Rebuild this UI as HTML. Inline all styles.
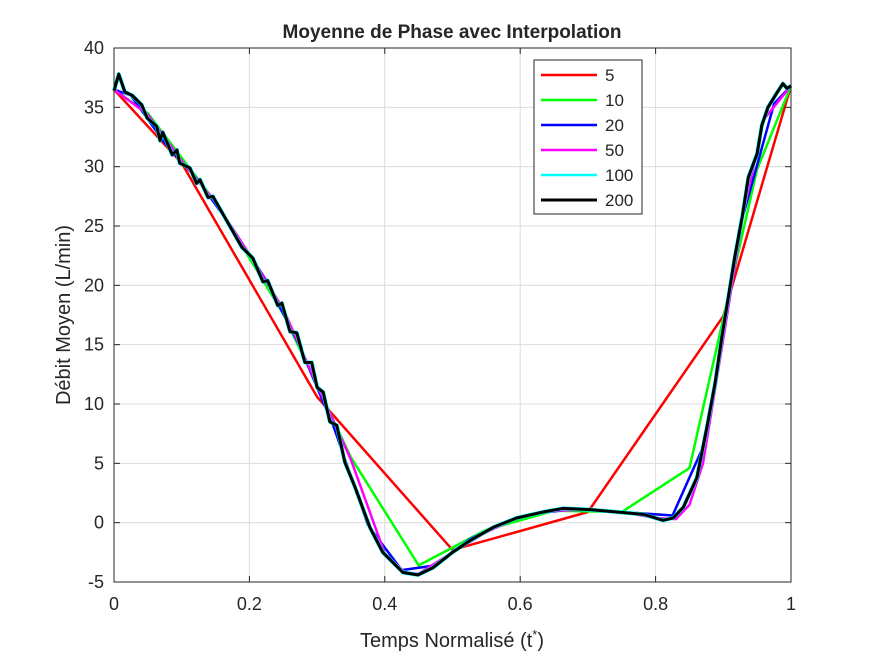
<!DOCTYPE html>
<html><head><meta charset="utf-8"><style>
body{margin:0;background:#fff;}
svg text{font-family:"Liberation Sans",Arial,sans-serif;fill:#262626;}
</style></head><body>
<svg id="c" width="875" height="656">
<rect width="875" height="656" fill="#fff"/>
<g id="grid"></g>
<g id="series"></g>
<rect x="114" y="48" width="677" height="534" fill="none" stroke="#262626" stroke-width="1"/>
<g id="ticks"></g>
<text x="452" y="38" text-anchor="middle" font-size="19" font-weight="bold" fill="#000">Moyenne de Phase avec Interpolation</text>
<text x="452" y="647" text-anchor="middle" font-size="20">Temps Normalisé (t<tspan dy="-8" font-size="13">*</tspan><tspan dy="8">)</tspan></text>
<text transform="translate(70,315) rotate(-90)" text-anchor="middle" font-size="20">Débit Moyen (L/min)</text>
<g id="legend"></g>
</svg>
<script>
const xTicks=[0,0.2,0.4,0.6,0.8,1];
const xTickLabels=["0","0.2","0.4","0.6","0.8","1"];
const yTicks=[-5,0,5,10,15,20,25,30,35,40];
const seriesNames=["5","10","20","50","100","200"];
const x5=[0,0.1,0.3,0.5,0.7,0.9,1];
const y5=[36.5,30.3,10.6,-2.3,0.9,17.4,36.8];
const x10=[0,0.05,0.15,0.25,0.35,0.45,0.55,0.65,0.75,0.85,0.95,1];
const y10=[36.5,34.5,27,17.6,5.5,-3.6,-0.6,1.0,0.9,4.6,29.8,36.8];
const x20=[0,0.025,0.075,0.125,0.175,0.225,0.275,0.325,0.375,0.425,0.475,0.525,0.575,0.625,0.675,0.725,0.775,0.825,0.875,0.925,0.975,1];
const y20=[36.5,36.0,32.0,28.8,24.8,20.4,14.8,8.0,-0.2,-4.0,-3.6,-1.4,0.0,0.8,1.1,1.0,0.8,0.6,7.0,25,35.3,36.8];
const x200=[0,0.007,0.016,0.027,0.041,0.049,0.063,0.068,0.072,0.086,0.093,0.097,0.112,0.122,0.127,0.139,0.146,0.164,0.189,0.205,0.22,0.227,0.242,0.248,0.26,0.27,0.282,0.292,0.3,0.309,0.316,0.319,0.329,0.341,0.356,0.378,0.397,0.427,0.449,0.471,0.5,0.526,0.56,0.595,0.634,0.663,0.703,0.743,0.782,0.811,0.826,0.841,0.861,0.876,0.888,0.898,0.91,0.917,0.928,0.937,0.95,0.957,0.966,0.979,0.988,0.994,1];
const y200=[36.4,37.8,36.3,36.0,35.2,34.1,33.4,32.2,32.9,31.0,31.4,30.3,29.9,28.6,28.9,27.4,27.5,25.7,23.2,22.3,20.3,20.4,18.3,18.5,16.1,16.0,13.5,13.5,11.4,11.0,9.2,8.5,8.2,5.1,3.0,-0.4,-2.5,-4.2,-4.4,-3.8,-2.5,-1.5,-0.4,0.4,0.9,1.2,1.1,0.9,0.7,0.2,0.4,1.3,3.8,8.1,11.8,15.7,19.9,22.4,25.8,29.1,31.1,33.5,35.0,36.2,37.0,36.6,36.8];
const x50=[0,0.05,0.1,0.15,0.2,0.25,0.3,0.35,0.4,0.43,0.45,0.5,0.55,0.6,0.65,0.7,0.75,0.8,0.83,0.85,0.87,0.9,0.93,0.96,1];
const y50=[36.5,34.4,30.5,27.0,22.6,18.0,11.6,5.3,-2.6,-4.2,-4.3,-2.5,-0.8,0.5,1.0,1.1,0.9,0.4,0.3,1.5,5.0,15.5,26.2,34.0,36.8];
const X=v=>114+v*677, Y=v=>582-(v+5)*534/45;
const NS="http://www.w3.org/2000/svg";
function mk(t,a,p){const e=document.createElementNS(NS,t);for(const k in a)e.setAttribute(k,a[k]);p.appendChild(e);return e;}
const grid=document.getElementById('grid'),ticks=document.getElementById('ticks'),ser=document.getElementById('series'),leg=document.getElementById('legend');
xTicks.forEach((v,i)=>{
 const g=mk('line',{x1:X(v),x2:X(v),y1:48,y2:582,stroke:'#dcdcdc','stroke-width':1},grid);
 
 
 mk('line',{x1:X(v),x2:X(v),y1:582,y2:576,stroke:'#262626'},ticks);
 mk('line',{x1:X(v),x2:X(v),y1:48,y2:54,stroke:'#262626'},ticks);
 const t=mk('text',{x:X(v),y:610,'text-anchor':'middle','font-size':18},ticks);
 t.textContent=xTickLabels[i];
 
 
});
yTicks.forEach(v=>{
 const g=mk('line',{x1:114,x2:791,y1:Y(v),y2:Y(v),stroke:'#dcdcdc','stroke-width':1},grid);
 
 
 mk('line',{x1:114,x2:120,y1:Y(v),y2:Y(v),stroke:'#262626'},ticks);
 mk('line',{x1:791,x2:785,y1:Y(v),y2:Y(v),stroke:'#262626'},ticks);
 const t=mk('text',{x:104,y:Y(v)+6,'text-anchor':'end','font-size':18},ticks);
 t.textContent=String(v);
 
 
});
const cols=['#ff0000','#00ff00','#0000ff','#ff00ff','#00ffff','#000000'];
const data=[[x5,y5],[x10,y10],[x20,y20],[x50,y50],[x200,y200],[x200,y200]];
data.forEach((d,i)=>{
 const pts=d[0].map((x,j)=>X(x)+','+Y(d[1][j])).join(' ');
 const p=mk('polyline',{points:pts,fill:'none',stroke:cols[i],'stroke-width':i==5?3:(i==4?4:2.5),'stroke-linejoin':'round'},ser);
 
 
});
mk('rect',{x:534,y:60,width:108,height:154,fill:'#fff',stroke:'#262626'},leg);
seriesNames.forEach((n,i)=>{
 const y=75+i*25;
 const l=mk('line',{x1:541,x2:597,y1:y,y2:y,stroke:cols[i],'stroke-width':i==5?3:2.5},leg);
 
 
 const t=mk('text',{x:605,y:y+6,'font-size':17,fill:'#000'},leg);
 t.textContent=n;
 
 
});
</script>
</body></html>
